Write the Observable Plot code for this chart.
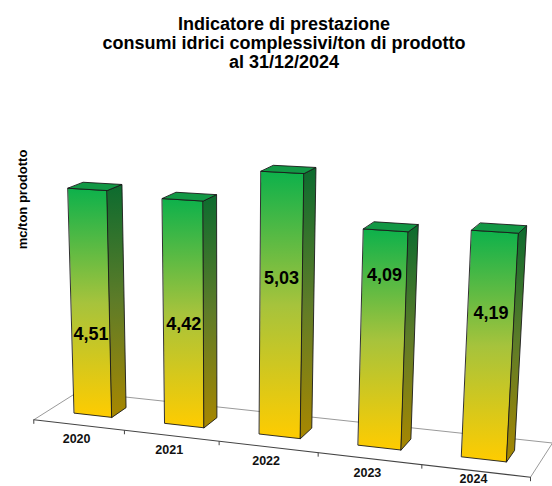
<!DOCTYPE html>
<html><head><meta charset="utf-8">
<script src="https://cdn.jsdelivr.net/npm/d3@7"></script>
<script src="https://cdn.jsdelivr.net/npm/@observablehq/plot@0.6"></script>
<style>
html,body{margin:0;padding:0;background:#fff;}
body{width:552px;height:486px;overflow:hidden;font-family:"Liberation Sans",Arial,Helvetica,sans-serif;}
#title{height:74px;box-sizing:border-box;padding:15px 0 0 16px;text-align:center;font-weight:bold;font-size:18px;line-height:19px;color:#000;}
#chart svg{display:block;overflow:visible;}
</style></head><body>
<div id="title"></div>
<div id="chart"></div>
<script>
// ---- data ----
const years = ["2020", "2021", "2022", "2023", "2024"];
const values = [4.51, 4.42, 5.03, 4.09, 4.19];
const yLabel = "mc/ton prodotto";
const titleLines = ["Indicatore di prestazione", "consumi idrici complessivi/ton di prodotto", "al 31/12/2024"];

// ---- layout / style (not data) ----
const labelHeightFrac = [0.37, 0.46, 0.61, 0.80, 0.65]; // where the value label sits along each bar
const TOP = 74;                 // title block height (px)
const W = 552, H = 486 - TOP;
// 3D frame: floor quad corners in page px, vertical vanishing point, px per unit
const floorFL = [33.3, 419.3], floorFR = [530, 476.7], floorBR = [552, 442.5], floorBL = [77.4, 391.4];
const VP = [225, 5800];
const unitPx = 48.3;
const barHalf = 0.21, Z0 = 0.33, Z1 = 0.67;
const nCat = years.length;

document.getElementById("title").innerHTML = titleLines.map(t => `<div>${t}</div>`).join("");

// homography unit square -> floor quad
function homography(p0, p1, p2, p3) {
  const [x0, y0] = p0, [x1, y1] = p1, [x2, y2] = p2, [x3, y3] = p3;
  const dx1 = x1 - x2, dx2 = x3 - x2, dx3 = x0 - x1 + x2 - x3;
  const dy1 = y1 - y2, dy2 = y3 - y2, dy3 = y0 - y1 + y2 - y3;
  const den = dx1 * dy2 - dx2 * dy1;
  const g = (dx3 * dy2 - dx2 * dy3) / den;
  const h = (dx1 * dy3 - dx3 * dy1) / den;
  return {a: x1 - x0 + g * x1, b: x3 - x0 + h * x3, c: x0,
          d: y1 - y0 + g * y1, e: y3 - y0 + h * y3, f: y0, g, h};
}
const HG = homography(floorFL, floorFR, floorBR, floorBL);
function homog(X, Z) {
  const u = X / nCat, v = Z;
  return [HG.a * u + HG.b * v + HG.c, HG.d * u + HG.e * v + HG.f, HG.g * u + HG.h * v + 1];
}
const ref = homog(0.5 - barHalf, Z0);
const sv = -unitPx * ref[2] / (VP[1] - ref[1] / ref[2] + unitPx);
function project(X, Y, Z) {
  const [A, B, Wh] = homog(X, Z);
  const w = Wh + sv * Y;
  return [(A + sv * Y * VP[0]) / w, (B + sv * Y * VP[1]) / w - TOP];
}

// ---- build geometry from data ----
const barRows = [];
const labelRows = [];
years.forEach((yr, i) => {
  const v = values[i];
  const X0 = i + 0.5 - barHalf, X1 = i + 0.5 + barHalf;
  const faces = {
    front: [[X0, 0, Z0], [X1, 0, Z0], [X1, v, Z0], [X0, v, Z0]],
    side: [[X1, 0, Z0], [X1, 0, Z1], [X1, v, Z1], [X1, v, Z0]],
    top: [[X0, v, Z0], [X1, v, Z0], [X1, v, Z1], [X0, v, Z1]]
  };
  for (const [face, pts] of Object.entries(faces)) {
    for (const p of pts) {
      const [x, y] = project(...p);
      barRows.push({id: yr + "-" + face, face, x, y});
    }
  }
  const [lx, ly] = project(i + 0.5, v * labelHeightFrac[i], Z0);
  labelRows.push({x: lx, y: ly, text: v.toFixed(2).replace(".", ",")});
});

const floorBack = [[0, 0], [0, 1], [nCat, 1], [nCat, 0]].map(([X, Z]) => { const [x, y] = project(X, 0, Z); return {x, y}; });
const floorFront = [[0, 0], [nCat, 0]].map(([X, Z]) => { const [x, y] = project(X, 0, Z); return {x, y}; });
const ticks = d3.range(nCat + 1).map(X => { const [x, y] = project(X, 0, 0); return {x, y, y2: y + 4}; });
// category labels sit ~14px below the front edge, kept inside the picture
const catRows = years.map((yr, i) => { const [x, y] = project(i + 0.5, 0, 0); return {x: x - 2, y: Math.min(y + 14, H - 8), text: yr}; });

const stroke = "#1a1a1a";
const plot = Plot.plot({
  width: W, height: H, margin: 0,
  x: {type: "identity", axis: null},
  y: {type: "identity", axis: null},
  style: {fontFamily: "'Liberation Sans', Arial, sans-serif", background: "#fff"},
  marks: [
    Plot.line(floorBack, {x: "x", y: "y", stroke: "#9a9a9a", strokeWidth: 1}),
    Plot.line(floorFront, {x: "x", y: "y", stroke: "#444", strokeWidth: 1.1}),
    Plot.link(ticks, {x1: "x", y1: "y", x2: "x", y2: "y2", stroke: "#444", strokeWidth: 1}),
    Plot.text(catRows, {x: "x", y: "y", text: "text", fontSize: 12.5, fontWeight: "bold", fill: "#111"}),
    Plot.line(barRows.filter(d => d.face === "front"), {x: "x", y: "y", z: "id", curve: "linear-closed", fill: "url(#gFront)", stroke, strokeWidth: 0.9}),
    Plot.line(barRows.filter(d => d.face === "side"), {x: "x", y: "y", z: "id", curve: "linear-closed", fill: "url(#gSide)", stroke, strokeWidth: 0.9}),
    Plot.line(barRows.filter(d => d.face === "top"), {x: "x", y: "y", z: "id", curve: "linear-closed", fill: "#129845", stroke, strokeWidth: 0.9}),
    Plot.text(labelRows, {x: "x", y: "y", text: "text", fontSize: 18, fontWeight: "bold", fill: "#000"}),
    Plot.text([yLabel], {frameAnchor: "top-left", dx: 17, dy: 199 - TOP, rotate: -90, textAnchor: "middle", fontSize: 13, fontWeight: "bold", fill: "#000"})
  ]
});

const defs = d3.select(plot).insert("defs", ":first-child");
function grad(id, stops) {
  const g = defs.append("linearGradient").attr("id", id).attr("x1", 0).attr("y1", 0).attr("x2", 0).attr("y2", 1);
  for (const [o, c] of stops) g.append("stop").attr("offset", o).attr("stop-color", c);
}
grad("gFront", [[0, "#0db14b"], [0.5, "#a6c33c"], [1, "#ffcc00"]]);
grad("gSide", [[0, "#0c6b2f"], [0.5, "#5e7c28"], [1, "#a88700"]]);

document.getElementById("chart").appendChild(plot);
</script>
</body></html>
